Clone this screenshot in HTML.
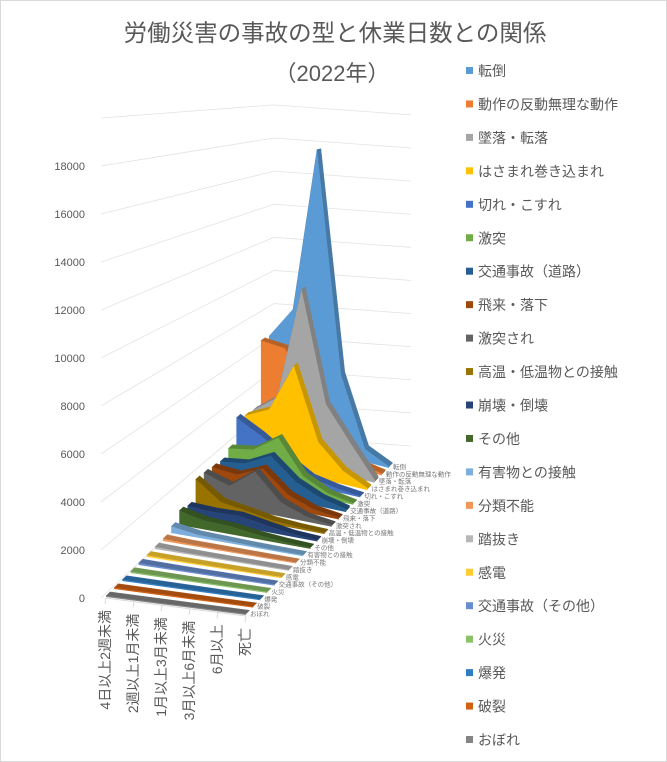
<!DOCTYPE html>
<html><head><meta charset="utf-8">
<style>
html,body{margin:0;padding:0;background:#fff;}
#wrap{width:665px;height:760px;border:1px solid #d9d9d9;position:relative;overflow:hidden;}
svg text{font-family:"Liberation Sans","Noto Sans CJK JP",sans-serif;}
</style></head>
<body>
<div id="wrap">
<svg id="chart" width="665" height="760">
<text x="334" y="40" text-anchor="middle" font-size="23.5" fill="#595959">労働災害の事故の型と休業日数との関係</text>
<text x="331" y="80" text-anchor="middle" font-size="22" fill="#595959">（2022年）</text>
</svg>
</div>
<script>
const categories=["4日以上2週未満","2週以上1月未満","1月以上3月未満","3月以上6月未満","6月以上","死亡"];
const seriesNames=["転倒","動作の反動無理な動作","墜落・転落","はさまれ巻き込まれ","切れ・こすれ","激突","交通事故（道路）","飛来・落下","激突され","高温・低温物との接触","崩壊・倒壊","その他","有害物との接触","分類不能","踏抜き","感電","交通事故（その他）","火災","爆発","破裂","おぼれ"];
const s0=[6000,8000,18000,4800,700,30];
const s1=[6100,6000,3200,1100,300,50];
const s2=[2400,3500,10100,3800,1900,100];
const s3=[2500,3200,6000,2000,700,50];
const s4=[2800,2100,1200,400,150,10];
const s5=[1500,1750,2700,900,250,20];
const s6=[1200,1400,2100,1000,400,100];
const s7=[1300,1200,1800,700,200,30];
const s8=[1400,1000,2000,700,200,30];
const s9=[1450,550,350,120,40,10];
const s10=[500,450,500,280,90,20];
const s11=[650,380,330,160,60,10];
const s12=[270,90,60,25,10,5];
const s13=[60,20,10,5,2,1];
const s14=[50,20,10,5,2,1];
const s15=[30,10,5,3,2,5];
const s16=[40,20,10,5,2,3];
const s17=[20,10,5,3,1,2];
const s18=[15,10,5,3,1,3];
const s19=[15,8,5,2,1,2];
const s20=[5,2,1,1,1,3];
const seriesValues=[s0,s1,s2,s3,s4,s5,s6,s7,s8,s9,s10,s11,s12,s13,s14,s15,s16,s17,s18,s19,s20];
const yTicks=[0,2000,4000,6000,8000,10000,12000,14000,16000,18000];
const colors=["#5B9BD5","#ED7D31","#A5A5A5","#FFC000","#4472C4","#70AD47","#255E91","#9E480E","#636363","#997300","#264478","#43682B","#7CAFDD","#F1975A","#B7B7B7","#FFCD33","#698ED0","#8CC168","#327DC2","#D26012","#848484"];

const NS="http://www.w3.org/2000/svg";
const svg=document.getElementById("chart");
function mk(tag,attrs,parent){const e=document.createElementNS(NS,tag);for(const k in attrs)e.setAttribute(k,attrs[k]);(parent||svg).appendChild(e);return e;}
function shade(hex,f){const n=parseInt(hex.slice(1),16);let r=(n>>16)&255,g=(n>>8)&255,b=n&255;return "rgb("+Math.round(r*f)+","+Math.round(g*f)+","+Math.round(b*f)+")";}
const FL=[105,595],FR=[245,613],BL=[268,435],BR=[388,466];
const NSER=20,NCAT=5,DEPTH=0.5;
function base(k,i){const t=k/NSER,u=i/NCAT;
 const lx=BL[0]+(FL[0]-BL[0])*t,ly=BL[1]+(FL[1]-BL[1])*t;
 const rx=BR[0]+(FR[0]-BR[0])*t,ry=BR[1]+(FR[1]-BR[1])*t;
 return [lx+(rx-lx)*u,ly+(ry-ly)*u];}
function scaleAt(k){return 0.0166+(0.0235-0.0166)*(k/NSER);}
function yFront(v){return 597-v*0.0240;}
function yBackCorner(v){return 435-v*(298/18000);}
function topPt(k,i,v){const b=base(k,i);return [b[0],b[1]-v*scaleAt(k)];}

const gridG=mk("g",{});


yTicks.concat([20000]).forEach(v=>{
 const y0=yFront(v),y1=yBackCorner(v);
 const l=mk("polyline",{points:`100,${y0} 273,${y1} 410,${y1+10}`,fill:"none",stroke:"#e3e3e3","stroke-width":"0.8"},gridG);
 
 
});
yTicks.forEach(v=>{
 const t=mk("text",{x:84,y:yFront(v)+4,"text-anchor":"end","font-size":"11",fill:"#595959"});
 t.textContent=String(v);
 
 
});
const fe=mk("line",{x1:FL[0],y1:FL[1]+2,x2:FR[0],y2:FR[1]+2,stroke:"#d9d9d9","stroke-width":"1"});



for(let k=0;k<seriesValues.length;k++){
 const vals=seriesValues[k];const g=mk("g",{});
 
 
 const kb=k-DEPTH;
 // top surface quads
 for(let i=0;i<vals.length-1;i++){
  const a=topPt(kb,i,vals[i]),b=topPt(kb,i+1,vals[i+1]),c=topPt(k,i+1,vals[i+1]),d=topPt(k,i,vals[i]);
  const q=mk("polygon",{points:[a,b,c,d].map(p=>p[0].toFixed(1)+","+p[1].toFixed(1)).join(" "),fill:shade(colors[k],0.78),stroke:shade(colors[k],0.78),"stroke-width":"0.4"},g);
  
  
 }
 // side at right end
 const e1=topPt(kb,NCAT,vals[NCAT]),e2=topPt(k,NCAT,vals[NCAT]),e3=base(k,NCAT),e4=base(kb,NCAT);
 const sd=mk("polygon",{points:[e1,e2,e3,e4].map(p=>p[0].toFixed(1)+","+p[1].toFixed(1)).join(" "),fill:shade(colors[k],0.65)},g);
 
 
 // face
 const top=[],bot=[];
 vals.forEach((v,i)=>{const p=topPt(k,i,v),b=base(k,i);top.push(p[0].toFixed(1)+","+p[1].toFixed(1));bot.unshift(b[0].toFixed(1)+","+(b[1]+1).toFixed(1));});
 const face=mk("polygon",{points:top.concat(bot).join(" "),fill:colors[k]},g);
 
 
 const e=base(k,NCAT);
 const lt=mk("text",{x:e[0]+4,y:e[1]+2,"font-size":"6.5",fill:"#777"});
 lt.textContent=seriesNames[k];
 
 
}
categories.forEach((c,i)=>{
 const b=base(NSER,i);const x=b[0]-1,y=b[1]+14;
 const t=mk("text",{x:0,y:0,"text-anchor":"end","font-size":"14",fill:"#595959",transform:`translate(${x+5},${y}) rotate(-90)`});
 t.textContent=c;
 
 
 const tk=mk("line",{x1:b[0],y1:b[1]+2,x2:b[0]-1,y2:b[1]+8,stroke:"#d9d9d9"});
 
 
});
const lg=mk("g",{});


seriesNames.forEach((n,k)=>{
 const y=70+k*33.45;
 const it=mk("g",{},lg);
 
 
 mk("rect",{x:465,y:y-4,width:7,height:7,fill:colors[k]},it);
 const t=mk("text",{x:477,y:y+5,"font-size":"14",fill:"#595959"},it);
 t.textContent=n;
});
</script>
</body></html>
